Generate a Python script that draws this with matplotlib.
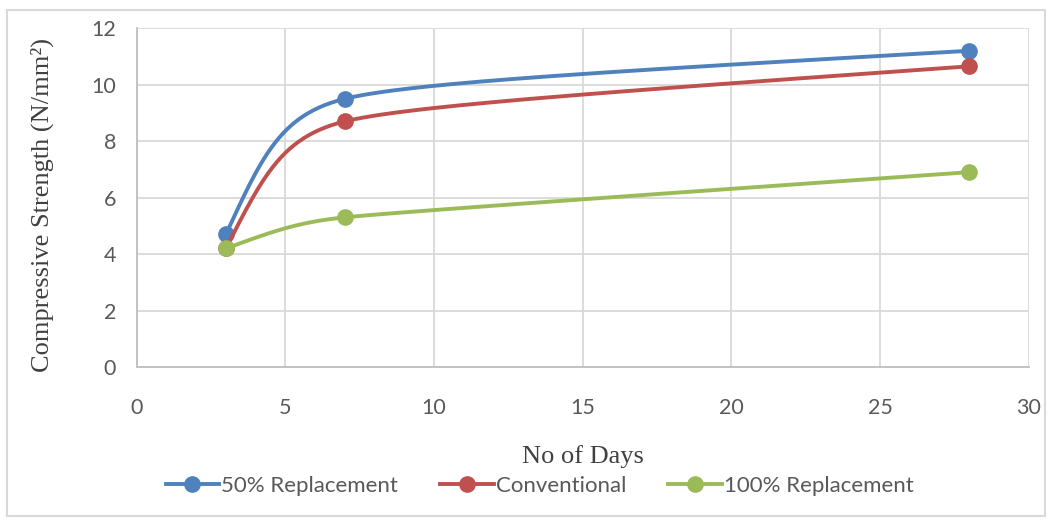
import numpy as np
import matplotlib.pyplot as plt
from matplotlib.patches import Rectangle

# dados
dias = [3, 7, 28]
rep50 = [4.7, 9.5, 11.2]
convencional = [4.2, 8.7, 10.65]
rep100 = [4.2, 5.3, 6.9]
nomes = ["50% Replacement", "Conventional", "100% Replacement"]
cores = ["#4F81BD", "#C0504D", "#9BBB59"]


# suavização parecida com a do Excel, feita em pixels
def suavizar(ax, x, y, n=80):
    p = ax.transData.transform(np.column_stack([x, y]))
    m = len(p)
    fwd = [None] * m
    back = [None] * m
    for i in range(1, m - 1):
        tang = p[i + 1] - p[i - 1]
        d1 = np.linalg.norm(p[i] - p[i - 1])
        d2 = np.linalg.norm(p[i + 1] - p[i])
        h = tang * min(d1, d2) / (d1 + d2) / 2.6
        back[i] = p[i] - h
        fwd[i] = p[i] + h
    # pontas: controle apontando para o controle vizinho
    fwd[0] = p[0] + (back[1] - p[0]) * 2 / 3 if m > 2 else p[0] + (p[1] - p[0]) / 3
    back[m - 1] = p[-1] + (fwd[m - 2] - p[-1]) * 2 / 3 if m > 2 else p[-1] - (p[-1] - p[-2]) / 3
    pts = []
    t = np.linspace(0, 1, n)[:, None]
    for i in range(m - 1):
        a, b, c, d = p[i], fwd[i], back[i + 1], p[i + 1]
        seg = (1 - t) ** 3 * a + 3 * (1 - t) ** 2 * t * b + 3 * (1 - t) * t ** 2 * c + t ** 3 * d
        pts.append(seg if i == 0 else seg[1:])
    pts = ax.transData.inverted().transform(np.vstack(pts))
    return pts[:, 0], pts[:, 1]


fig = plt.figure(figsize=(10.52, 5.22), dpi=100)
ax = fig.add_axes([0.130, 0.297, 0.848, 0.649])
ax.set_xlim(0, 30)
ax.set_ylim(0, 12)

for serie, nome, cor in zip([rep50, convencional, rep100], nomes, cores):
    xs, ys = suavizar(ax, dias, serie)
    ax.plot(xs, ys, color=cor, linewidth=2.8, solid_capstyle="round")
    ax.plot(dias, serie, "o", color=cor, markersize=11)
    ax.plot([], [], "-o", color=cor, linewidth=2.8, markersize=11, label=nome)

ax.set_xticks(range(0, 31, 5))
ax.set_yticks(range(0, 13, 2))
ax.grid(True, color="#D9D9D9", linewidth=1.3)
ax.set_axisbelow(True)
for lado in ["top", "right"]:
    ax.spines[lado].set_visible(False)
for lado in ["left", "bottom"]:
    ax.spines[lado].set_color("#BFBFBF")
    ax.spines[lado].set_linewidth(1.3)
ax.tick_params(length=0, labelsize=15.5, labelcolor="#595959", pad=22)
ax.tick_params(axis="y", pad=15)
for lbl in ax.get_xticklabels() + ax.get_yticklabels():
    lbl.set_fontfamily("Lato")

fig.text(0.040, 0.607, "Compressive Strength (N/mm²)", rotation=90, ha="center", va="center",
         family="Liberation Serif", fontsize=19, color="#404040")
fig.text(0.554, 0.125, "No of Days", ha="center", va="center",
         family="Liberation Serif", fontsize=19, color="#404040")

fig.legend(loc="center", bbox_to_anchor=(0.513, 0.069), ncol=3, frameon=False,
           handlelength=2.4, handletextpad=0.1, columnspacing=1.9,
           prop={"family": "Lato", "size": 16}, labelcolor="#595959")

fig.patches.append(Rectangle((0.007, 0.012), 0.986, 0.969, transform=fig.transFigure,
                             fill=False, edgecolor="#D9D9D9", linewidth=1.5))

fig.savefig("out.png", dpi=100)
